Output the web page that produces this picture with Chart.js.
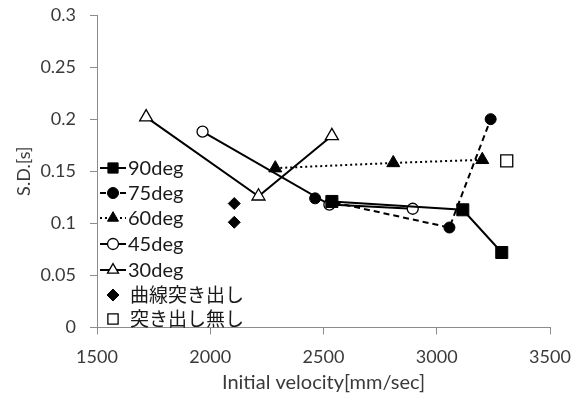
<!DOCTYPE html>
<html><head><meta charset="utf-8">
<script src="https://cdn.jsdelivr.net/npm/chart.js@4/dist/chart.umd.min.js"></script>
<style>html,body{margin:0;padding:0;background:#fff}#wrap{width:583px;height:396px;position:relative}</style>
</head><body><div id="wrap"><canvas id="c" width="583" height="396"></canvas></div>
<script>
// ---- data ----
const seriesNames = ['90deg','75deg','60deg','45deg','30deg','曲線突き出し','突き出し無し'];
const x90 = [2537, 3115, 3287];
const y90 = [0.121, 0.113, 0.072];
const x75 = [2463, 3056, 3238];
const y75 = [0.124, 0.096, 0.200];
const x60 = [2287, 2808, 3201];
const y60 = [0.153, 0.158, 0.161];
const x45 = [1966, 2526, 2894];
const y45 = [0.188, 0.118, 0.114];
const x30 = [1717, 2213, 2537];
const y30 = [0.202, 0.126, 0.184];
const xCurve = [2106, 2106];
const yCurve = [0.119, 0.101];
const xNone = [3309];
const yNone = [0.160];
const xTicks = [1500, 2000, 2500, 3000, 3500];
const yTicks = [0, 0.05, 0.1, 0.15, 0.2, 0.25, 0.3];
const xTitle = 'Initial velocity[mm/sec]';
const yTitle = 'S.D.[s]';

const pts = (xs, ys) => xs.map((x, i) => ({x: x, y: ys[i]}));
const FONT = "Lato, 'Noto Sans CJK JP', sans-serif";
const AX = '#8c8c8c';
const TXT = '#3a3a3a';

const datasets = [
  {label: seriesNames[0], data: pts(x90, y90), showLine: true, borderColor: '#000', borderWidth: 2,
   pointStyle: 'rect', pointRadius: 8.5, backgroundColor: '#000', pointBorderColor: '#000', pointBorderWidth: 1},
  {label: seriesNames[1], data: pts(x75, y75), showLine: true, borderColor: '#000', borderWidth: 2, borderDash: [6, 4],
   pointStyle: 'circle', pointRadius: 5.5, backgroundColor: '#000', pointBorderColor: '#000', pointBorderWidth: 1},
  {label: seriesNames[2], data: pts(x60, y60), showLine: true, borderColor: '#000', borderWidth: 2, borderDash: [2, 3],
   pointStyle: 'triangle', pointRadius: 7.5, backgroundColor: '#000', pointBorderColor: '#000', pointBorderWidth: 1},
  {label: seriesNames[3], data: pts(x45, y45), showLine: true, borderColor: '#000', borderWidth: 2,
   pointStyle: 'circle', pointRadius: 5.5, backgroundColor: '#fff', pointBorderColor: '#000', pointBorderWidth: 1.3},
  {label: seriesNames[4], data: pts(x30, y30), showLine: true, borderColor: '#000', borderWidth: 2,
   pointStyle: 'triangle', pointRadius: 7.5, backgroundColor: '#fff', pointBorderColor: '#000', pointBorderWidth: 1.3},
  {label: seriesNames[5], data: pts(xCurve, yCurve), showLine: false, borderColor: '#000',
   pointStyle: 'rectRot', pointRadius: 6, backgroundColor: '#000', pointBorderColor: '#000', pointBorderWidth: 1},
  {label: seriesNames[6], data: pts(xNone, yNone), showLine: false, borderColor: '#000',
   pointStyle: 'rect', pointRadius: 8.5, backgroundColor: '#fff', pointBorderColor: '#000', pointBorderWidth: 1.3}
];

const legendPlugin = {
  id: 'inLegend',
  afterDraw(chart) {
    const ctx = chart.ctx;
    const x0 = 100, x1 = 126, xm = 113, xt = 128;
    const ys = [168, 193, 218, 244, 270, 295, 319];
    ctx.save();
    datasets.forEach((ds, i) => {
      const y = ys[i];
      if (ds.showLine) {
        ctx.beginPath();
        ctx.setLineDash(ds.borderDash || []);
        ctx.lineWidth = ds.borderWidth;
        ctx.strokeStyle = ds.borderColor;
        ctx.moveTo(x0, y); ctx.lineTo(x1, y); ctx.stroke();
        ctx.setLineDash([]);
      }
      ctx.fillStyle = ds.backgroundColor;
      ctx.strokeStyle = ds.pointBorderColor;
      ctx.lineWidth = ds.pointBorderWidth;
      let r = ds.pointRadius;
      if (ds.pointStyle === 'rect') r = r * 0.85;
      if (ds.pointStyle === 'triangle') r = r * 0.85;
      Chart.helpers.drawPoint(ctx, {pointStyle: ds.pointStyle, radius: r, rotation: 0, borderWidth: ds.pointBorderWidth}, xm, y);
      ctx.fillStyle = '#1a1a1a';
      const cjk = /[^\x00-\x7f]/.test(ds.label);
      ctx.font = (cjk ? '19px ' : '20px ') + FONT;
      ctx.textBaseline = 'middle';
      ctx.textAlign = 'left';
      ctx.fillText(ds.label, cjk ? xt + 2 : xt, y + 1);
    });
    ctx.restore();
  }
};

new Chart(document.getElementById('c'), {
  type: 'scatter',
  data: {datasets: datasets},
  plugins: [legendPlugin],
  options: {
    responsive: false,
    animation: false,
    devicePixelRatio: 1,
    layout: {padding: {top: 15, right: 33, left: 0, bottom: 0}},
    plugins: {legend: {display: false}, tooltip: {enabled: false}},
    scales: {
      x: {
        type: 'linear', min: 1500, max: 3500,
        afterBuildTicks: s => { s.ticks = xTicks.map(v => ({value: v})); },
        afterFit: s => { s.height = 68.5; s.paddingLeft = 0; s.paddingRight = 0; },
        grid: {drawOnChartArea: false, drawTicks: true, tickLength: 7, color: AX},
        border: {display: true, color: AX, width: 1},
        ticks: {padding: 12, color: TXT, font: {family: FONT, size: 18}, callback: v => String(v), maxRotation: 0},
        title: {display: true, text: xTitle, color: TXT, font: {family: FONT, size: 20}, padding: {top: 1, bottom: 1}}
      },
      y: {
        type: 'linear', min: 0, max: 0.3,
        afterBuildTicks: s => { s.ticks = yTicks.map(v => ({value: v})); },
        afterFit: s => { s.width = 97; s.paddingTop = 0; s.paddingBottom = 0; },
        grid: {drawOnChartArea: false, drawTicks: true, tickLength: 7, color: AX},
        border: {display: true, color: AX, width: 1},
        ticks: {padding: 14, color: TXT, font: {family: FONT, size: 18}, callback: v => String(Number(v.toFixed(2)))},
        title: {display: true, text: yTitle, color: TXT, font: {family: FONT, size: 18}, padding: {top: 13, bottom: 13}}
      }
    }
  }
});
</script></body></html>
